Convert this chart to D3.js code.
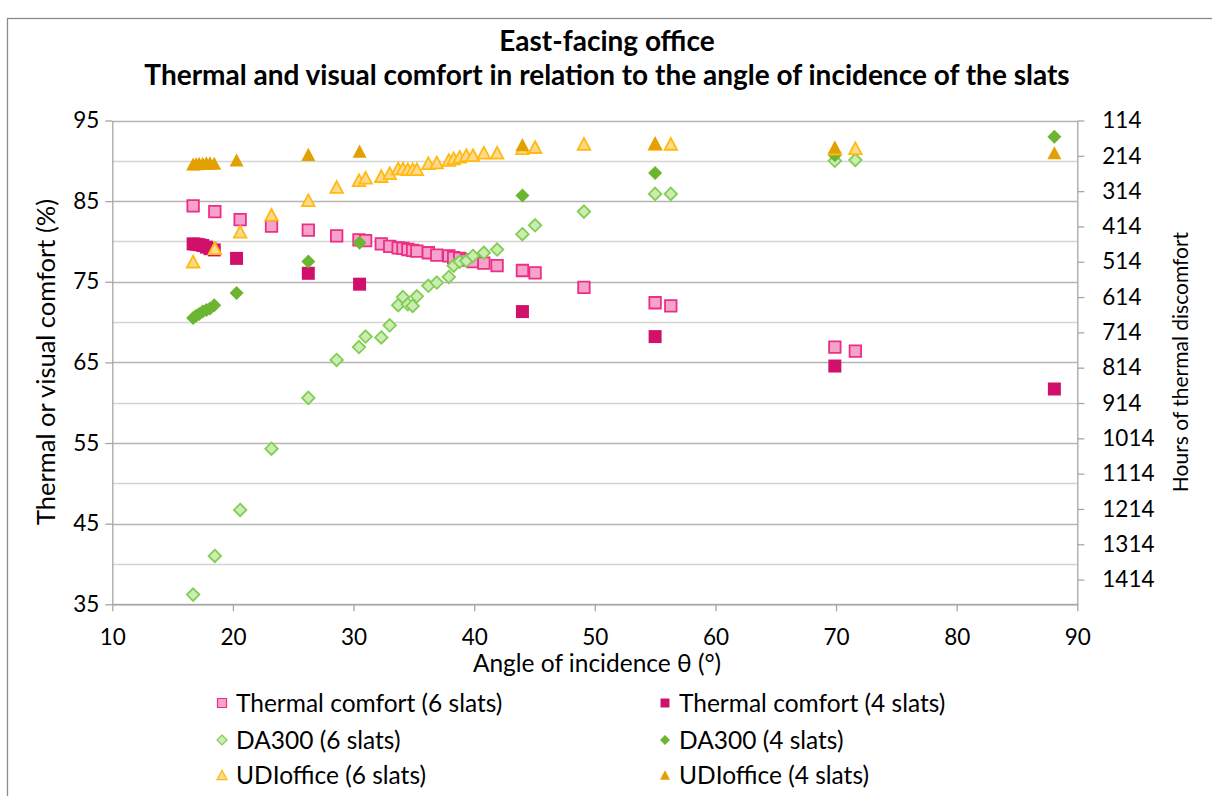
<!DOCTYPE html>
<html>
<head>
<meta charset="utf-8">
<script src="https://cdn.jsdelivr.net/npm/d3@7"></script>
<style>
  html, body { margin: 0; padding: 0; background: #fff; }
  svg { display: block; font-family: Lato, "Open Sans", sans-serif; }
</style>
</head>
<body>
<svg id="chart" width="1212" height="796"></svg>
<script>
// Slat angle of incidence (degrees) for the 6-slat configuration
const angles6 = [16.7, 18.5, 20.6, 23.2, 26.25, 28.6, 30.45, 31.0, 32.3, 33.0, 33.7, 34.1, 34.5, 34.9, 35.25,
                 36.2, 36.9, 37.9, 38.3, 38.8, 39.35, 39.9, 40.8, 41.9, 44.0, 45.05, 49.1, 55.0, 56.3, 69.9, 71.6];
const thermal6 = [84.4, 83.7, 82.7, 81.9, 81.4, 80.7, 80.2, 80.1, 79.7, 79.4, 79.2, 79.15, 79.0, 78.9, 78.8,
                  78.6, 78.3, 78.2, 78.0, 77.9, 77.7, 77.5, 77.3, 77.0, 76.4, 76.1, 74.3, 72.4, 72.0, 66.9, 66.4];
const da300_6 = [36.2, 41.0, 46.7, 54.3, 60.6, 65.3, 66.9, 68.2, 68.1, 69.6, 72.1, 73.1, 72.2, 72.0, 73.2,
                 74.5, 74.9, 75.6, 77.0, 77.5, 77.6, 78.2, 78.6, 79.0, 80.9, 82.0, 83.7, 85.9, 85.9, 90.0, 90.1];
const udi6 = [77.5, 79.15, 81.2, 83.3, 85.1, 86.75, 87.6, 87.9, 88.1, 88.45, 89.05, 89.05, 88.95, 88.95, 88.95,
              89.7, 89.8, 90.1, 90.3, 90.5, 90.7, 90.7, 91.0, 91.0, 91.55, 91.7, 92.1, 92.1, 92.1, 91.5, 91.55];

// Slat angle of incidence (degrees) for the 4-slat configuration
const angles4 = [16.7, 16.95, 17.2, 17.5, 17.8, 18.1, 18.45, 20.3, 26.25, 30.5, 44.0, 55.0, 69.9, 88.1];
const thermal4 = [79.7, 79.65, 79.6, 79.5, 79.3, 79.1, 78.95, 77.9, 76.05, 74.7, 71.3, 68.2, 64.55, 61.7];
const da300_4 = [70.5, 70.8, 71.0, 71.3, 71.5, 71.7, 72.1, 73.6, 77.5, 79.85, 85.7, 88.5, 90.7, 93.0];
const udi4 = [89.6, 89.65, 89.7, 89.7, 89.75, 89.75, 89.7, 90.1, 90.8, 91.2, 92.0, 92.2, 91.7, 91.0];

// Axis ticks
const xTicks = [10, 20, 30, 40, 50, 60, 70, 80, 90];
const leftMajorTicks = [35, 45, 55, 65, 75, 85, 95];
const leftMinorTicks = [40, 50, 60, 70, 80, 90];
const rightTicks = [114, 214, 314, 414, 514, 614, 714, 814, 914, 1014, 1114, 1214, 1314, 1414];

const titleLines = ["East-facing office", "Thermal and visual comfort in relation to the angle of incidence of the slats"];

const svg = d3.select("#chart");
const plot = { left: 112.3, right: 1077.3, top: 120.5, bottom: 604.3 };

const x = d3.scaleLinear().domain([10, 90]).range([plot.left, plot.right]);
const yL = d3.scaleLinear().domain([35, 95]).range([plot.bottom, plot.top]);
// Hours of discomfort: 1 % of comfort corresponds to 22.83 occupied hours
const yR = d3.scaleLinear().domain([114, 1484]).range([plot.top, plot.bottom]);

// Chart frame
svg.append("rect")
  .attr("x", 7.5).attr("y", 18.5).attr("width", 1300).attr("height", 900)
  .attr("fill", "none").attr("stroke", "#8c8c8c").attr("stroke-width", 1.3);

// Title
svg.append("g").selectAll("text").data(titleLines).join("text")
  .attr("x", 607).attr("y", (d, i) => 51 + i * 34)
  .attr("text-anchor", "middle")
  .attr("font-weight", "bold").attr("font-size", 28).attr("fill", "#000")
  .text(d => d);

// Gridlines
const grid = svg.append("g");
grid.selectAll("line.minor").data(leftMinorTicks).join("line")
  .attr("class", "minor")
  .attr("x1", plot.left).attr("x2", plot.right)
  .attr("y1", d => Math.round(yL(d)) + 0.5).attr("y2", d => Math.round(yL(d)) + 0.5)
  .attr("stroke", "#d4d4d4").attr("stroke-width", 1.3);
grid.selectAll("line.major").data(leftMajorTicks).join("line")
  .attr("class", "major")
  .attr("x1", plot.left).attr("x2", plot.right)
  .attr("y1", d => Math.round(yL(d)) + 0.5).attr("y2", d => Math.round(yL(d)) + 0.5)
  .attr("stroke", "#b4b4b4").attr("stroke-width", 1.3);

// Axes
function styleAxis(g) {
  g.select(".domain").attr("stroke", "#a6a6a6").attr("stroke-width", 1.3);
  g.selectAll(".tick line").attr("stroke", "#a6a6a6").attr("stroke-width", 1.3);
  g.selectAll(".tick text").attr("fill", "#000").attr("font-size", 22.5)
    .attr("font-family", "Lato, 'Open Sans', sans-serif");
}

svg.append("g")
  .attr("transform", `translate(${plot.left},0)`)
  .call(d3.axisLeft(yL).tickValues(leftMajorTicks).tickSize(7).tickSizeOuter(0).tickPadding(6))
  .call(styleAxis);

svg.append("g")
  .attr("transform", `translate(${plot.right},0)`)
  .call(d3.axisRight(yR).tickValues(rightTicks).tickFormat(d3.format("d"))
    .tickSize(7).tickSizeOuter(0).tickPadding(18))
  .call(styleAxis);

svg.append("g")
  .attr("transform", `translate(0,${plot.bottom})`)
  .call(d3.axisBottom(x).tickValues(xTicks).tickSize(7).tickSizeOuter(0).tickPadding(18))
  .call(styleAxis);

// Axis titles
svg.append("text")
  .attr("x", 597).attr("y", 672).attr("text-anchor", "middle")
  .attr("font-size", 24.5).attr("fill", "#000")
  .text("Angle of incidence θ (°)");
svg.append("text")
  .attr("transform", "translate(55,362) rotate(-90)").attr("text-anchor", "middle")
  .attr("font-size", 25.5).attr("fill", "#000")
  .text("Thermal or visual comfort (%)");
svg.append("text")
  .attr("transform", "translate(1188,362) rotate(-90)").attr("text-anchor", "middle")
  .attr("font-size", 21).attr("fill", "#000")
  .text("Hours of thermal discomfort");

// Marker shapes (symbol size = width of the marker in px)
const squareSym = { draw(ctx, s) { const h = s / 2; ctx.rect(-h, -h, s, s); } };
const diamondSym = { draw(ctx, s) { const h = s / 2; ctx.moveTo(0, -h); ctx.lineTo(h, 0); ctx.lineTo(0, h); ctx.lineTo(-h, 0); ctx.closePath(); } };
const triangleSym = { draw(ctx, s) { const w = s / 2, hh = s * 0.47; ctx.moveTo(0, -hh); ctx.lineTo(w, hh); ctx.lineTo(-w, hh); ctx.closePath(); } };

const series = [
  { name: "Thermal comfort (6 slats)", xs: angles6, ys: thermal6, sym: squareSym, size: 11.5, fill: "#f6a3cb", stroke: "#ec2e86", sw: 1.8 },
  { name: "Thermal comfort (4 slats)", xs: angles4, ys: thermal4, sym: squareSym, size: 13, fill: "#d0106b", stroke: "none", sw: 0 },
  { name: "DA300 (6 slats)", xs: angles6, ys: da300_6, sym: diamondSym, size: 12.5, fill: "#cdecb4", stroke: "#80ce52", sw: 1.8 },
  { name: "DA300 (4 slats)", xs: angles4, ys: da300_4, sym: diamondSym, size: 14, fill: "#6cb531", stroke: "none", sw: 0 },
  { name: "UDIoffice (6 slats)", xs: angles6, ys: udi6, sym: triangleSym, size: 12.5, fill: "#ffda8e", stroke: "#ffb90f", sw: 1.8 },
  { name: "UDIoffice (4 slats)", xs: angles4, ys: udi4, sym: triangleSym, size: 14, fill: "#e3a003", stroke: "none", sw: 0 }
];

const marks = svg.append("g");
series.forEach(s => {
  const pts = s.xs.map((a, i) => [a, s.ys[i]]);
  marks.append("g").selectAll("path").data(pts).join("path")
    .attr("transform", d => `translate(${x(d[0])},${yL(d[1])})`)
    .attr("d", d3.symbol(s.sym, s.size)())
    .attr("fill", s.fill).attr("stroke", s.stroke).attr("stroke-width", s.sw);
});

// Legend
const legendCols = [222, 665];
const legendRows = [703, 740, 775];
const legend = svg.append("g");
series.forEach((s, i) => {
  const lx = legendCols[i % 2], ly = legendRows[Math.floor(i / 2)];
  const g = legend.append("g").attr("transform", `translate(${lx},${ly})`);
  g.append("path")
    .attr("d", d3.symbol(s.sym, s.sym === squareSym ? 9 : 10)())
    .attr("fill", s.fill).attr("stroke", s.stroke).attr("stroke-width", s.sw ? 1.2 : 0);
  g.append("text")
    .attr("x", 14).attr("y", 8.5)
    .attr("font-size", 24.5).attr("fill", "#000")
    .text(s.name);
});
</script>
</body>
</html>
